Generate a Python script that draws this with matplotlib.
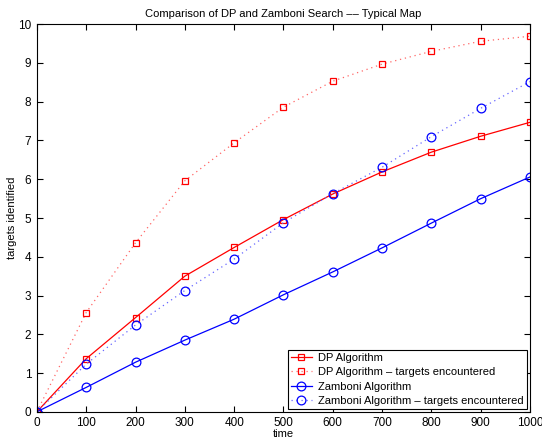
import matplotlib
matplotlib.use("Agg")
import matplotlib.pyplot as plt

plt.rcParams['font.family'] = ['Liberation Sans', 'DejaVu Sans']

time = [0, 100, 200, 300, 400, 500, 600, 700, 800, 900, 1000]
dp_identified = [0, 1.37, 2.43, 3.50, 4.24, 4.96, 5.62, 6.19, 6.70, 7.11, 7.47]
dp_encountered = [0, 2.56, 4.36, 5.96, 6.94, 7.86, 8.53, 8.97, 9.30, 9.56, 9.69]
zam_identified = [0, 0.63, 1.28, 1.85, 2.39, 3.02, 3.61, 4.23, 4.87, 5.50, 6.06]
zam_encountered = [0, 1.23, 2.24, 3.13, 3.94, 4.88, 5.63, 6.31, 7.10, 7.83, 8.52]

labels = ["DP Algorithm", "DP Algorithm \u2013 targets encountered",
          "Zamboni Algorithm", "Zamboni Algorithm \u2013 targets encountered"]

fig = plt.figure(figsize=(5.42, 4.40), dpi=100)
ax = fig.add_axes([0.068, 0.064, 0.910, 0.881])

ms = 5
dots = (1, 3)
ax.plot(time, dp_identified, '-', color='red', lw=0.9, marker='s', ms=ms,
        mfc='none', mec='red', mew=0.9, label=labels[0])
ax.plot(time, dp_encountered, color='#ff6666', lw=0.9, dashes=dots, marker='s', ms=ms,
        mfc='none', mec='red', mew=0.9, label=labels[1])
ax.plot(time, zam_identified, '-', color='blue', lw=0.9, marker='o', ms=ms + 1.3,
        mfc='none', mec='blue', mew=0.9, label=labels[2])
ax.plot(time, zam_encountered, color='#6666ff', lw=0.9, dashes=dots, marker='o', ms=ms + 1.3,
        mfc='none', mec='blue', mew=0.9, label=labels[3])

ax.set_xlim(0, 1000)
ax.set_ylim(0, 10)
ax.set_xticks(range(0, 1001, 100))
ax.set_yticks(range(0, 11))
ax.tick_params(direction='in', top=True, right=True, labelsize=8.5, length=4, width=0.8, pad=4)
for s in ax.spines.values():
    s.set_linewidth(0.8)

ax.set_title("Comparison of DP and Zamboni Search \u2013\u2013 Typical Map", fontsize=8, pad=5)
ax.set_xlabel("time", fontsize=8, labelpad=0)
ax.set_ylabel("targets identified", fontsize=8, labelpad=1)

leg = ax.legend(loc='lower right', fontsize=8, fancybox=False, framealpha=1,
                edgecolor='black', borderaxespad=0.3, handlelength=1.9,
                borderpad=0.25, labelspacing=0.38, handletextpad=0.6)
leg.get_frame().set_linewidth(0.8)

fig.savefig("out.png", dpi=100)
